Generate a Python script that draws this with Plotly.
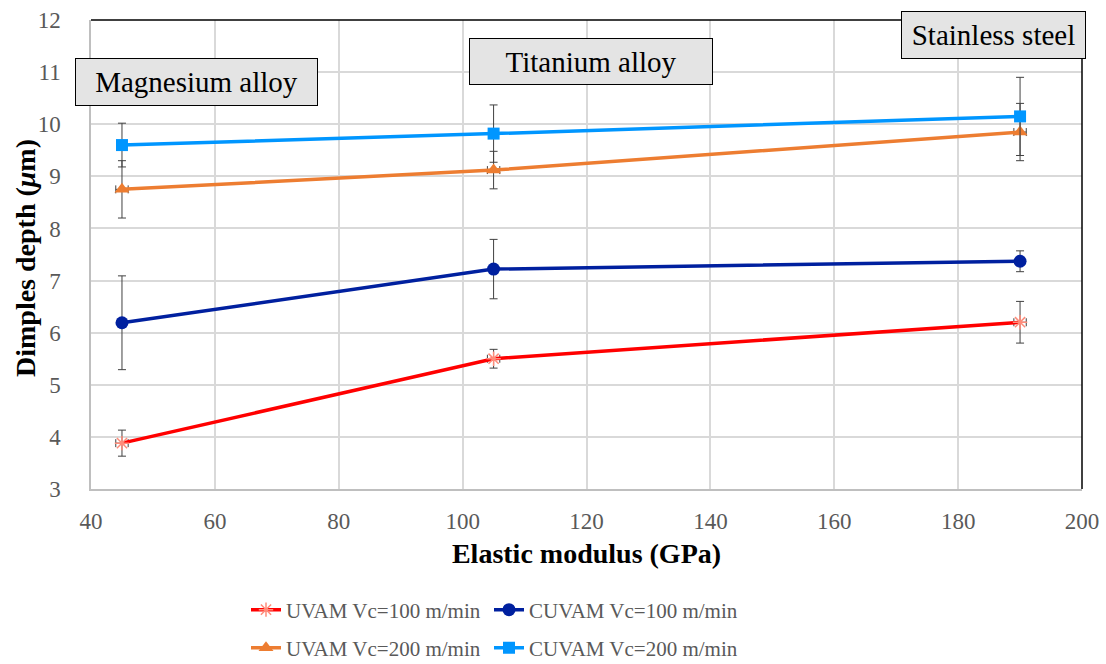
import plotly.graph_objects as go

modulus = [45, 105, 190]
uvam100 = [3.88, 5.50, 6.20]
uvam100_err = [0.25, 0.18, 0.40]
cuvam100 = [6.19, 7.22, 7.37]
cuvam100_err = [0.90, 0.57, 0.20]
uvam200 = [8.75, 9.12, 9.85]
uvam200_err = [0.55, 0.36, 0.55]
cuvam200 = [9.60, 9.82, 10.15]
cuvam200_err = [0.42, 0.55, 0.75]
x_err_small = [1.0, 1.0, 1.0]

names = ["UVAM Vc=100 m/min", "CUVAM Vc=100 m/min", "UVAM Vc=200 m/min", "CUVAM Vc=200 m/min"]
materials = ["Magnesium alloy", "Titanium alloy", "Stainless steel"]

FONT = "Liberation Serif"
ERRC = "#404040"

fig = go.Figure()

def err(vals):
    return dict(type="data", array=vals, visible=True, color=ERRC, thickness=1, width=4)

fig.add_trace(go.Scatter(x=modulus, y=uvam100, name=names[0], mode="lines+markers",
    line=dict(color="#FF0000", width=3.5),
    marker=dict(symbol="asterisk-open", size=12, color="#FF8C7A", line=dict(width=1.5, color="#FF8C7A")),
    error_y=err(uvam100_err), error_x=err(x_err_small), legend="legend", showlegend=True))
fig.add_trace(go.Scatter(x=modulus, y=cuvam100, name=names[1], mode="lines+markers",
    line=dict(color="#00209F", width=3.5),
    marker=dict(symbol="circle", size=13, color="#00209F"),
    error_y=err(cuvam100_err), legend="legend2", showlegend=True))
fig.add_trace(go.Scatter(x=modulus, y=uvam200, name=names[2], mode="lines+markers",
    line=dict(color="#ED7D31", width=3.5),
    marker=dict(symbol="triangle-up", size=13, color="#ED7D31"),
    error_y=err(uvam200_err), error_x=err(x_err_small), legend="legend3", showlegend=True))
fig.add_trace(go.Scatter(x=modulus, y=cuvam200, name=names[3], mode="lines+markers",
    line=dict(color="#0096FF", width=3.5),
    marker=dict(symbol="square", size=12, color="#0096FF"),
    error_y=err(cuvam200_err), legend="legend4", showlegend=True))

W, H = 1106, 664
L, R, T, B = 91, 24, 20, 175
pw, ph = W - L - R, H - T - B

def box(text, x0, x1, y0, y1):
    fig.add_annotation(text=text, xref="paper", yref="paper",
        x=((x0 + x1) / 2 - L) / pw, y=(H - B - (y0 + y1) / 2) / ph,
        xanchor="center", yanchor="middle", showarrow=False,
        width=x1 - x0 - 2, height=y1 - y0 - 2, borderpad=0,
        bgcolor="#E4E4E4", bordercolor="#000000", borderwidth=1,
        font=dict(family=FONT, size=29, color="#000000"))

box(materials[0], 75, 318, 58, 106)
box(materials[1], 469, 713, 38, 85)
box(materials[2], 901, 1086, 11, 59)

# y-axis title placed as rotated text
fig.add_annotation(text="<b>Dimples depth (<i>μ</i>m)</b>", xref="paper", yref="paper",
    x=(25 - L) / pw, y=(H - B - 258) / ph, xanchor="center", yanchor="middle",
    textangle=-90, showarrow=False, font=dict(family=FONT, size=28, color="#000000"))

# top and right black frame lines
fig.add_shape(type="line", xref="paper", yref="paper", x0=0, x1=1, y0=1, y1=1,
              line=dict(color="#000000", width=1.5), layer="above")
fig.add_shape(type="line", xref="paper", yref="paper", x0=1, x1=1, y0=0, y1=1,
              line=dict(color="#000000", width=1.5), layer="above")

def leg(xpx, ypx):
    return dict(orientation="h", xref="container", yref="container",
                x=xpx / W, y=1 - ypx / H, xanchor="left", yanchor="middle",
                font=dict(family=FONT, size=21, color="#595959"),
                bgcolor="rgba(0,0,0,0)", itemwidth=30, visible=True)

fig.update_layout(
    width=W, height=H,
    showlegend=True,
    margin=dict(l=L, r=R, t=T, b=B, autoexpand=False),
    paper_bgcolor="white", plot_bgcolor="white",
    font=dict(family=FONT),
    legend=leg(246, 610),
    legend2=leg(489, 610),
    legend3=leg(246, 648),
    legend4=leg(489, 648),
    xaxis=dict(range=[40, 200], dtick=20, tick0=40, showgrid=True, gridcolor="#D9D9D9", gridwidth=1.5,
               showline=True, linecolor="#BFBFBF", linewidth=1.5, zeroline=False, ticks="",
               ticklabelstandoff=11, automargin=False,
               tickfont=dict(family=FONT, size=23, color="#595959"),
               title=dict(text="<b>Elastic modulus (GPa)</b>", font=dict(family=FONT, size=28, color="#000000"), standoff=10)),
    yaxis=dict(range=[3, 12], dtick=1, showgrid=True, gridcolor="#D9D9D9", gridwidth=1.5,
               showline=True, linecolor="#BFBFBF", linewidth=1.5, zeroline=False, ticks="",
               ticklabelstandoff=24, automargin=False,
               tickfont=dict(family=FONT, size=23, color="#595959")),
)

fig.write_html("out.html")
